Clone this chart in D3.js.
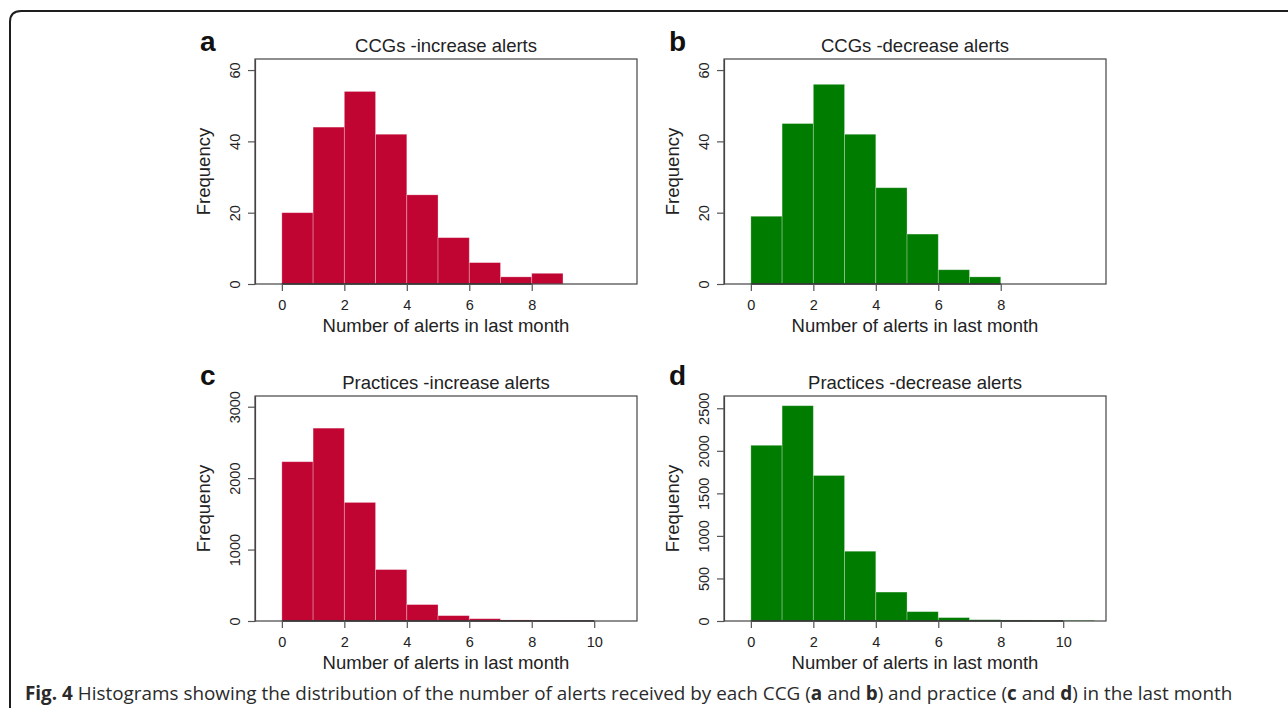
<!DOCTYPE html>
<html>
<head>
<meta charset="utf-8">
<script src="https://cdn.jsdelivr.net/npm/d3@7"></script>
<style>
  html, body { margin: 0; padding: 0; background: #fff; }
  svg { display: block; }
  text { font-family: "Liberation Sans", Arial, sans-serif; fill: #222; }
</style>
</head>
<body>
<svg id="chart" width="1288" height="708"></svg>
<script>
// ---- data (histogram counts per unit-width bin starting at 0) ----
const ccgIncreaseCounts = [20, 44, 54, 42, 25, 13, 6, 2, 3];
const ccgDecreaseCounts = [19, 45, 56, 42, 27, 14, 4, 2];
const practiceIncreaseCounts = [2230, 2700, 1660, 720, 230, 75, 32, 15, 12, 10];
const practiceDecreaseCounts = [2065, 2530, 1710, 820, 340, 110, 40, 15, 12, 10, 8];

const panelLetters = ["a", "b", "c", "d"];
const panelTitles = ["CCGs -increase alerts", "CCGs -decrease alerts",
                     "Practices -increase alerts", "Practices -decrease alerts"];
const xTicksCCG = [0, 2, 4, 6, 8];
const xTicksPractice = [0, 2, 4, 6, 8, 10];
const yTicksCCG = [0, 20, 40, 60];
const yTicksPracticeInc = [0, 1000, 2000, 3000];
const yTicksPracticeDec = [0, 500, 1000, 1500, 2000, 2500];
const yMax = [63.1, 63.1, 3150, 2644];
const xLabel = "Number of alerts in last month";
const yLabel = "Frequency";

const RED = "#c10533", GREEN = "#007c00";

const panels = [
  { counts: ccgIncreaseCounts, xt: xTicksCCG, yt: yTicksCCG, color: RED,
    box: { l: 255, r: 637, t: 59, b: 284 }, letterDy: 8 },
  { counts: ccgDecreaseCounts, xt: xTicksCCG, yt: yTicksCCG, color: GREEN,
    box: { l: 724, r: 1106, t: 59, b: 284 }, letterDy: 8 },
  { counts: practiceIncreaseCounts, xt: xTicksPractice, yt: yTicksPracticeInc, color: RED,
    box: { l: 255, r: 637, t: 396, b: 621 }, letterDy: 11 },
  { counts: practiceDecreaseCounts, xt: xTicksPractice, yt: yTicksPracticeDec, color: GREEN,
    box: { l: 724, r: 1106, t: 396, b: 621 }, letterDy: 11 }
];

const svg = d3.select("#chart");

// outer frame (rounded top-left corner)
svg.append("path")
  .attr("d", "M10,708 L10,22 Q10,11 21,11 L1288,11")
  .attr("fill", "none").attr("stroke", "#1e1e1e").attr("stroke-width", 2);

panels.forEach((p, i) => {
  const { l, r, t, b } = p.box;
  const x = d3.scaleLinear().domain([-0.86, 11.37]).range([l, r]);
  const y = d3.scaleLinear().domain([0, yMax[i]]).range([b, t]);
  const g = svg.append("g");

  const bins = p.counts.map((c, k) => ({ x0: k, x1: k + 1, c }));
  g.selectAll("rect.bar").data(bins).join("rect")
    .attr("class", "bar")
    .attr("x", d => x(d.x0))
    .attr("width", d => x(d.x1) - x(d.x0))
    .attr("y", d => y(d.c))
    .attr("height", d => y(0) - y(d.c))
    .attr("fill", p.color)
    .attr("stroke", "rgba(255,255,255,0.35)")
    .attr("stroke-width", 0.8);

  // box
  g.append("rect").attr("x", l).attr("y", t).attr("width", r - l).attr("height", b - t)
    .attr("fill", "none").attr("stroke", "#444").attr("stroke-width", 1.2);

  // x axis
  const xa = g.append("g").attr("transform", `translate(0,${b})`)
    .call(d3.axisBottom(x).tickValues(p.xt).tickSize(7).tickSizeOuter(0).tickPadding(9));
  xa.select(".domain").attr("stroke", "#333").attr("stroke-width", 1.4)
    .attr("d", `M${x(p.xt[0])},0H${x(p.xt[p.xt.length - 1])}`);
  xa.selectAll(".tick line").attr("stroke", "#555").attr("stroke-width", 1.2);
  xa.selectAll(".tick text")
    .style("font-size", "14.5px").style("fill", "#222")
    .style("font-family", '"Liberation Sans", Arial, sans-serif');

  // y axis
  const ya = g.append("g").attr("transform", `translate(${l},0)`)
    .call(d3.axisLeft(y).tickValues(p.yt).tickSize(7).tickSizeOuter(0).tickFormat(d3.format("d")));
  ya.select(".domain").attr("stroke", "#444").attr("stroke-width", 1.2);
  ya.selectAll(".tick line").attr("stroke", "#555").attr("stroke-width", 1.2);
  ya.selectAll(".tick text")
    .attr("x", null).attr("dy", null)
    .attr("text-anchor", "middle")
    .attr("transform", "translate(-15.5,0) rotate(-90)")
    .attr("y", 0)
    .style("font-size", "14.5px").style("fill", "#222")
    .style("font-family", '"Liberation Sans", Arial, sans-serif');

  // title
  g.append("text").attr("x", (l + r) / 2).attr("y", t - 7.5)
    .attr("text-anchor", "middle").style("font-size", "18.5px").text(panelTitles[i]);
  // x label
  g.append("text").attr("x", (l + r) / 2).attr("y", b + 48)
    .attr("text-anchor", "middle").style("font-size", "18.5px").text(xLabel);
  // y label
  g.append("text")
    .attr("transform", `translate(${l - 45},${(t + b) / 2}) rotate(-90)`)
    .attr("text-anchor", "middle").style("font-size", "18.5px").text(yLabel);
  // panel letter
  g.append("text").attr("x", l - 55).attr("y", t - p.letterDy)
    .style("font-size", "28px").style("font-weight", "bold").style("fill", "#111")
    .text(panelLetters[i]);
});

// caption
const cap = svg.append("text").attr("x", 25).attr("y", 700)
  .style("font-size", "19px")
  .style("font-family", '"Open Sans", "Noto Sans", sans-serif')
  .style("fill", "#2a2a2a");
const parts = [
  ["Fig. 4", true], [" Histograms showing the distribution of the number of alerts received by each CCG (", false],
  ["a", true], [" and ", false], ["b", true], [") and practice (", false],
  ["c", true], [" and ", false], ["d", true], [") in the last month", false]
];
parts.forEach(([s, bold]) => {
  cap.append("tspan").style("font-weight", bold ? "bold" : "normal").text(s);
});
const w = cap.node().getComputedTextLength();
const target = 1208;
cap.attr("transform", `translate(25,0) scale(${target / w},1) translate(-25,0)`);
</script>
</body>
</html>
